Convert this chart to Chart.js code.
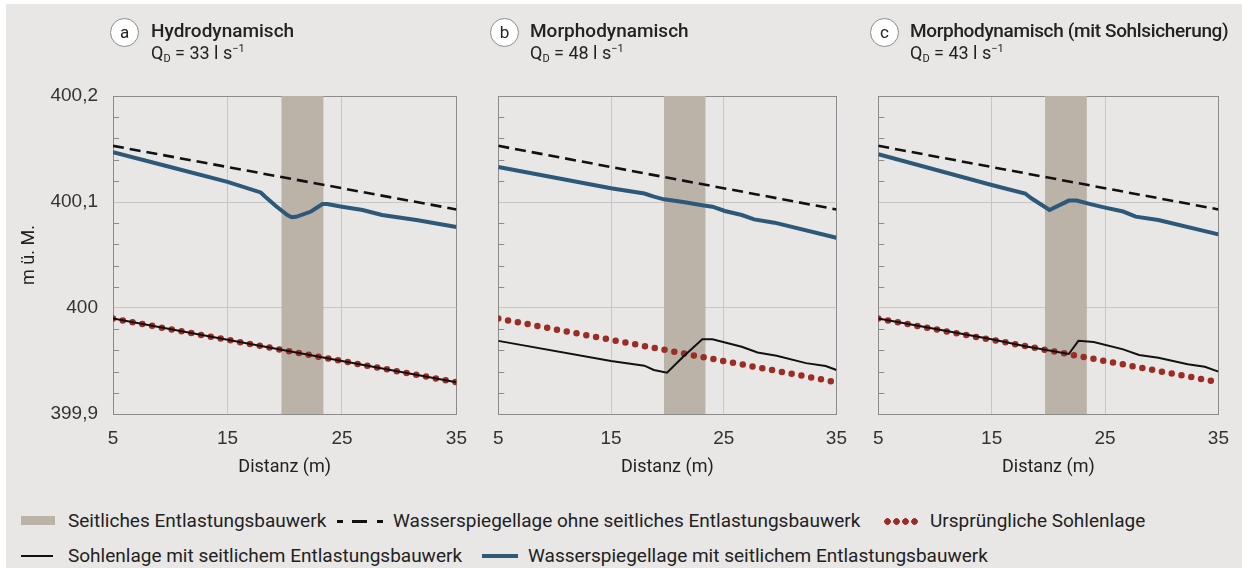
<!DOCTYPE html>
<html><head><meta charset="utf-8">
<script src="https://cdn.jsdelivr.net/npm/chart.js@4.4.0/dist/chart.umd.min.js"></script>
<style>
html,body{margin:0;padding:0;background:#fff;width:1242px;height:568px;overflow:hidden;}
#bg{position:absolute;left:6px;top:4px;width:1236px;height:564px;background:#e8e7e5;}
canvas{position:absolute;top:0;}
.circ{position:absolute;width:27px;height:27px;border:1px solid #8a8a8a;border-radius:50%;background:#fff;font:400 17px Roboto;text-align:center;line-height:26px;color:#222;}
.ttl{position:absolute;font:500 19px Roboto;color:#222;white-space:nowrap;line-height:22px;}
.sub{position:absolute;font:400 18px Roboto;color:#222;white-space:nowrap;line-height:22px;}
.sub sub{font-size:11px;vertical-align:-3px;line-height:0;}
.sub sup{font-size:11px;vertical-align:7px;line-height:0;}
.lg{position:absolute;font:400 19px Roboto;color:#222;white-space:nowrap;line-height:22px;}
.sw{position:absolute;}
</style>
</head><body>
<div id="bg"></div>
<canvas id="ca" width="480" height="490" style="left:0px"></canvas>
<canvas id="cb" width="380" height="490" style="left:480px"></canvas>
<canvas id="cc" width="382" height="490" style="left:860px"></canvas>

<div class="circ" style="left:110px;top:18px">a</div>
<div class="ttl" style="left:151px;top:20px">Hydrodynamisch</div>
<div class="sub" style="left:151px;top:42px">Q<sub>D</sub> = 33 l s<sup>−1</sup></div>

<div class="circ" style="left:490px;top:18px">b</div>
<div class="ttl" style="left:530px;top:20px">Morphodynamisch</div>
<div class="sub" style="left:530px;top:42px">Q<sub>D</sub> = 48 l s<sup>−1</sup></div>

<div class="circ" style="left:870px;top:18px">c</div>
<div class="ttl" style="left:910px;top:20px;letter-spacing:-0.35px">Morphodynamisch (mit Sohlsicherung)</div>
<div class="sub" style="left:910px;top:42px">Q<sub>D</sub> = 43 l s<sup>−1</sup></div>

<!-- legend -->
<div class="sw" style="left:21px;top:516px;width:34px;height:9px;background:#bbb2a8"></div>
<div class="lg" style="left:68px;top:510px">Seitliches Entlastungsbauwerk</div>
<div class="sw" style="left:337px;top:520px;width:6px;height:3px;background:#111"></div>
<div class="sw" style="left:352px;top:520px;width:15px;height:3px;background:#111"></div>
<div class="sw" style="left:377px;top:520px;width:6px;height:3px;background:#111"></div>
<div class="lg" style="left:393px;top:510px">Wasserspiegellage ohne seitliches Entlastungsbauwerk</div>
<div class="sw" style="left:883px;top:518px;width:36px;height:7px;background:radial-gradient(circle,#9b2d26 3px,transparent 3.6px) 0 0/9px 7px repeat-x"></div>
<div class="lg" style="left:930px;top:510px">Ursprüngliche Sohlenlage</div>

<div class="sw" style="left:21px;top:555px;width:32px;height:2px;background:#111"></div>
<div class="lg" style="left:68px;top:545px">Sohlenlage mit seitlichem Entlastungsbauwerk</div>
<div class="sw" style="left:482px;top:554px;width:36px;height:4px;background:#2d5878"></div>
<div class="lg" style="left:528px;top:545px">Wasserspiegellage mit seitlichem Entlastungsbauwerk</div>

<script>
// ---- data ----
const xTicks = [5, 15, 25, 35];
const yRange = [399.9, 400.2];
const bandRange = [19.7, 23.4];

const wspOhneX = [5, 35];
const wspOhneY = [400.153, 400.093];

const sohleUrX = [5, 35];
const sohleUrY = [399.99, 399.93];

const wspA_X = [5, 10, 15, 17.9, 18.3, 19.2, 20.2, 20.6, 21.0, 22.3, 23.3, 23.7, 25, 26.8, 28.5, 31.5, 35];
const wspA_Y = [400.147, 400.133, 400.119, 400.109, 400.105, 400.0965, 400.088, 400.0857, 400.086, 400.091, 400.098, 400.098, 400.0956, 400.0925, 400.0877, 400.083, 400.0765];
const sohleA_X = [5, 35];
const sohleA_Y = [399.99, 399.93];

const wspB_X = [5, 15, 17.96, 18.8, 19.7, 21.4, 23.1, 24.0, 25.1, 26.6, 27.7, 29.5, 35];
const wspB_Y = [400.133, 400.113, 400.108, 400.105, 400.1025, 400.100, 400.097, 400.0956, 400.0915, 400.0877, 400.0836, 400.0805, 400.0663];
const sohleB_X = [5, 15, 17.96, 18.8, 19.97, 21.4, 23.1, 24.0, 26.6, 28.0, 29.7, 32.3, 34.05, 35];
const sohleB_Y = [399.969, 399.95, 399.9456, 399.9415, 399.939, 399.954, 399.9705, 399.9705, 399.9635, 399.958, 399.955, 399.948, 399.9453, 399.9415];

const wspC_X = [5, 15, 17.96, 18.5, 20.1, 21.8, 22.5, 23.7, 25, 26.6, 27.7, 29.7, 35];
const wspC_Y = [400.145, 400.116, 400.108, 400.1035, 400.0925, 400.1013, 400.1013, 400.098, 400.0947, 400.091, 400.0862, 400.083, 400.0695];
const sohleC_X = [5, 15, 17.96, 21.8, 22.65, 24.0, 26.6, 28.0, 29.7, 32.3, 33.8, 35];
const sohleC_Y = [399.990, 399.9705, 399.964, 399.9566, 399.969, 399.968, 399.961, 399.9557, 399.953, 399.947, 399.9445, 399.940];

// ---- styles ----
const C_BAND = '#bbb2a8', C_BLUE = '#2d5878', C_RED = '#9b2d26', C_BLACK = '#111111';
const C_FRAME = '#8c8c8c', C_GRID = '#c6c6c6';
const TICK_FONT = {family: 'Liberation Sans', size: 19};
const TEXT_FONT = {family: 'Roboto', size: 18};

const pts = (xs, ys) => xs.map((x, i) => ({x, y: ys[i]}));
const isMajor = v => Math.abs(v * 10 - Math.round(v * 10)) < 1e-6;
const fmt = v => (Math.round(v * 10) / 10).toString().replace('.', ',');

const minorTicks = {
  id: 'minorTicks',
  beforeDatasetsDraw(chart) {
    const y = chart.scales.y, ctx = chart.ctx, left = chart.chartArea.left;
    ctx.save();
    ctx.strokeStyle = C_FRAME; ctx.lineWidth = 1;
    y.ticks.forEach(t => {
      if (!isMajor(t.value)) {
        const p = Math.round(y.getPixelForValue(t.value)) + 0.5;
        ctx.beginPath(); ctx.moveTo(left, p); ctx.lineTo(left + 6, p); ctx.stroke();
      }
    });
    ctx.restore();
  }
};

function makeChart(id, wX, wY, sX, sY, opt) {
  const datasets = [
    {data: pts(bandRange, [yRange[1], yRange[1]]), fill: 'start', backgroundColor: C_BAND, borderWidth: 0, pointRadius: 0, order: 10},
    {data: pts(sohleUrX, sohleUrY), borderColor: C_RED, borderWidth: 6.5, borderDash: [0, 9.95], borderCapStyle: 'round', pointRadius: 0, order: 5},
    {data: pts(wX, wY), borderColor: C_BLUE, borderWidth: 4, pointRadius: 0, order: 3},
    {data: pts(wspOhneX, wspOhneY), borderColor: C_BLACK, borderWidth: 2.6, borderDash: [11, 6], pointRadius: 0, order: 2},
    {data: pts(sX, sY), borderColor: C_BLACK, borderWidth: 2, pointRadius: 0, order: 1}
  ];
  const gridColor = (ctx, lo, hi) => {
    const v = ctx.tick.value;
    if (Math.abs(v - lo) < 1e-6 || Math.abs(v - hi) < 1e-6) return C_FRAME;
    return C_GRID;
  };
  return new Chart(document.getElementById(id), {
    type: 'line',
    data: {datasets},
    options: {
      responsive: false, animation: false, devicePixelRatio: 1,
      layout: {padding: {left: 0, top: 96, right: opt.padRight, bottom: 0}},
      elements: {line: {tension: 0}},
      plugins: {legend: {display: false}, tooltip: {enabled: false}},
      scales: {
        x: {
          type: 'linear', min: xTicks[0], max: xTicks[xTicks.length - 1],
          afterBuildTicks: s => { s.ticks = xTicks.map(v => ({value: v})); },
          afterFit: s => { s.height = 76; },
          ticks: {font: TICK_FONT, color: '#333', padding: 13, maxRotation: 0, autoSkip: false},
          grid: {drawTicks: false, color: ctx => gridColor(ctx, xTicks[0], xTicks[xTicks.length - 1])},
          border: {color: C_FRAME, width: 1},
          title: {display: true, text: 'Distanz (m)', font: TEXT_FONT, color: '#222', padding: {top: 0, bottom: 12}}
        },
        y: {
          type: 'linear', min: yRange[0], max: yRange[1],
          afterFit: s => { s.width = opt.axisWidth; },
          ticks: {stepSize: 0.02, autoSkip: false, font: TICK_FONT, color: '#333', padding: 15,
                  callback: v => (opt.showY && isMajor(v)) ? fmt(v) : ''},
          grid: {drawTicks: false, color: ctx => isMajor(ctx.tick.value) ? gridColor(ctx, yRange[0], yRange[1]) : 'rgba(0,0,0,0)'},
          border: {color: C_FRAME, width: 1},
          title: {display: opt.showY, text: 'm ü. M.', font: TEXT_FONT, color: '#222', padding: {top: 19, bottom: 0}}
        }
      }
    },
    plugins: [minorTicks]
  });
}

makeChart('ca', wspA_X, wspA_Y, sohleA_X, sohleA_Y, {padRight: 19, axisWidth: 113, showY: true});
makeChart('cb', wspB_X, wspB_Y, sohleB_X, sohleB_Y, {padRight: 18, axisWidth: 13, showY: false});
makeChart('cc', wspC_X, wspC_Y, sohleC_X, sohleC_Y, {padRight: 20, axisWidth: 13, showY: false});
</script>
</body></html>
